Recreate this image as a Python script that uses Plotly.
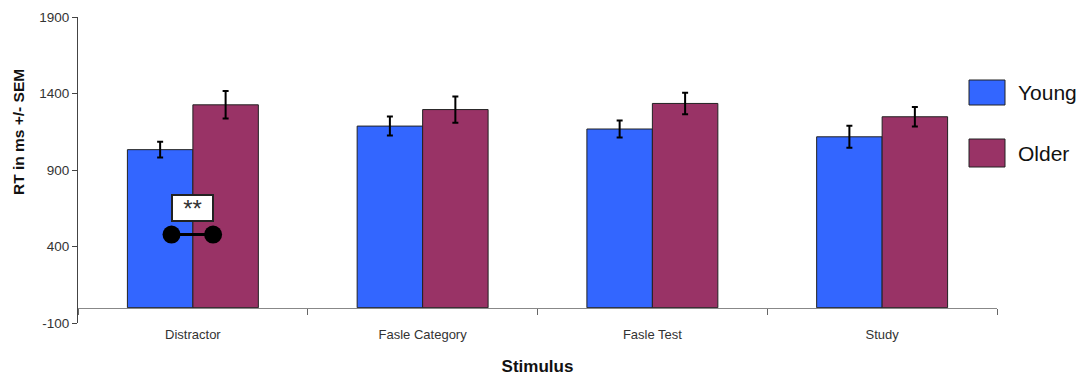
import plotly.graph_objects as go

# Mean reaction times (ms) and standard errors per stimulus type
categories = ["Distractor", "Fasle Category", "Fasle Test", "Study"]
young_rt = [1033, 1187, 1168, 1117]
young_sem = [52, 62, 56, 72]
older_rt = [1326, 1295, 1335, 1248]
older_sem = [90, 86, 70, 63]
y_ticks = [-100, 400, 900, 1400, 1900]
y_tick_text = ["-100", "400", "900", "1400", "1900"]

# Significance marker for the Distractor comparison
sig_label = "**"
sig_x = [-0.093, 0.088]
sig_y = [478, 478]
sig_label_y = 651

BLUE = "#3366FF"
MAROON = "#993366"
FONT = "Liberation Sans, Arial, sans-serif"

fig = go.Figure()

for name, vals, errs, color in [("Young", young_rt, young_sem, BLUE),
                                ("Older", older_rt, older_sem, MAROON)]:
    fig.add_trace(go.Bar(
        name=name, x=categories, y=vals,
        marker=dict(color=color, line=dict(color="#222222", width=1)),
        error_y=dict(type="data", array=errs, color="black", thickness=2, width=3),
        showlegend=False,
    ))

# Connector with end dots, on an overlaid numeric axis
fig.add_trace(go.Scatter(
    x=sig_x, y=sig_y, xaxis="x2", mode="lines+markers",
    line=dict(color="black", width=3),
    marker=dict(color="black", size=18),
    showlegend=False, hoverinfo="skip",
))

fig.add_annotation(
    x=0, y=sig_label_y, xref="x2", yref="y", text=sig_label, showarrow=False,
    font=dict(family=FONT, size=24, color="#333333"),
    bgcolor="white", bordercolor="#222222", borderwidth=2, borderpad=1,
    width=37, height=22,
)

# Legend swatches and labels
legend_items = [("Young", BLUE, 80, 105), ("Older", MAROON, 139, 167)]
for label, color, y0, y1 in legend_items:
    fig.add_shape(type="rect", xref="paper", yref="paper",
                  x0=(969 - 78) / 919, x1=(1005 - 78) / 919,
                  y0=(323 - y1) / 306, y1=(323 - y0) / 306,
                  fillcolor=color, line=dict(color="#222222", width=1))
    fig.add_annotation(xref="paper", yref="paper",
                       x=(1016 - 78) / 919, y=(323 - (y0 + y1) / 2) / 306,
                       xanchor="left", yanchor="middle", text=label, showarrow=False,
                       font=dict(family=FONT, size=21, color="#111111"))

# Y-axis title
fig.add_annotation(xref="paper", yref="paper", x=(18 - 78) / 919, y=(323 - 132) / 306,
                   text="<b>RT in ms +/- SEM</b>", textangle=-90, showarrow=False,
                   xanchor="center", yanchor="middle",
                   font=dict(family=FONT, size=15.5, color="#111111"))

fig.update_layout(
    width=1092, height=378,
    margin=dict(l=78, r=95, t=17, b=55),
    paper_bgcolor="white", plot_bgcolor="white",
    barmode="group", bargap=0.43, bargroupgap=0,
    xaxis=dict(
        type="category", anchor="free", position=0.05, automargin=False,
        showline=True, linecolor="#888888", linewidth=1,
        ticks="outside", tickson="boundaries", ticklen=6, tickcolor="#666666",
        ticklabelstandoff=15,
        tickfont=dict(family=FONT, size=13, color="#333333"),
        showgrid=False, zeroline=False,
        title=dict(text="<b>Stimulus</b>", standoff=18,
                   font=dict(family=FONT, size=17, color="#111111")),
    ),
    xaxis2=dict(overlaying="x", range=[-0.5, 3.5], visible=False),
    yaxis=dict(
        range=[-100, 1900], tickvals=y_ticks, ticktext=y_tick_text,
        automargin=False,
        showline=True, linecolor="#444444", linewidth=1,
        ticks="outside", ticklen=5, tickcolor="#444444",
        tickfont=dict(family=FONT, size=13.5, color="#333333"),
        showgrid=False, zeroline=False,
    ),
)

fig.write_html("out.html")
